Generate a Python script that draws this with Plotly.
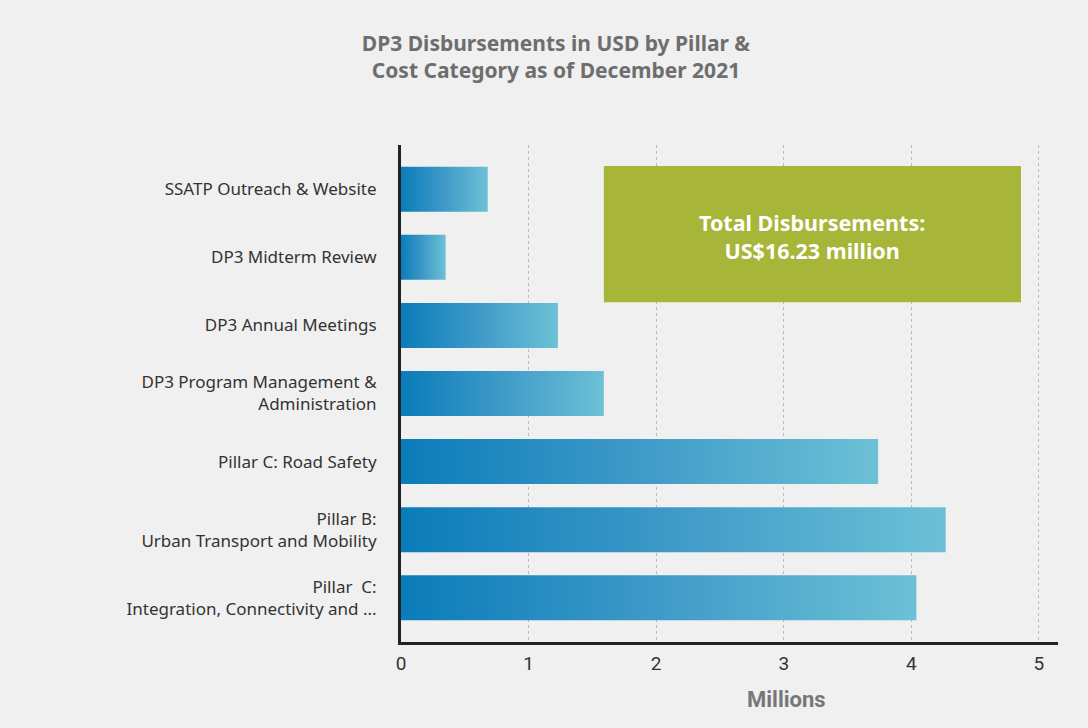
import plotly.graph_objects as go

# Cost categories, listed top to bottom
categories = [
    "SSATP Outreach & Website",
    "DP3 Midterm Review",
    "DP3 Annual Meetings",
    "DP3 Program Management &<br>Administration",
    "Pillar C: Road Safety",
    "Pillar B:<br>Urban Transport and Mobility",
    "Pillar  C:<br>Integration, Connectivity and ...",
]
# Disbursements in millions of USD
disbursed = [0.68, 0.35, 1.23, 1.59, 3.74, 4.27, 4.04]
x_ticks = [0, 1, 2, 3, 4, 5]

total_text = "Total Disbursements:<br>US$16.23 million"

BG = "#f0f0f0"
FONT = "Noto Sans"
HALF = 0.33  # half bar thickness in category units
gradient = [[0, "#0a7cb9"], [0.5, "#3f9ac8"], [1, "#6cc1d6"]]

fig = go.Figure()

# Each bar is a filled rectangle so it can carry a horizontal gradient
for i, v in enumerate(disbursed):
    fig.add_trace(go.Scatter(
        x=[0, v, v, 0, 0],
        y=[i - HALF, i - HALF, i + HALF, i + HALF, i - HALF],
        mode="lines",
        line=dict(width=0),
        fill="toself",
        fillgradient=dict(type="horizontal", colorscale=gradient),
        hoverinfo="skip",
        showlegend=False,
    ))

# Green summary panel
fig.add_shape(
    type="rect", xref="x", yref="y",
    x0=1.59, x1=4.86, y0=-0.34, y1=1.66,
    fillcolor="#a7b538", line=dict(width=0), layer="above",
)
fig.add_annotation(
    x=3.225, y=0.69, xref="x", yref="y",
    text="<b>" + total_text + "</b>",
    showarrow=False,
    font=dict(family=FONT, size=21.5, color="white"),
    align="center",
)

# Axis caption
fig.add_annotation(
    x=0.586, y=-0.115, xref="paper", yref="paper",
    xanchor="center", yanchor="middle",
    text="<b>Millions</b>",
    showarrow=False,
    font=dict(family="Roboto", size=22, color="#777777"),
)

fig.update_layout(
    width=1088, height=728,
    paper_bgcolor=BG, plot_bgcolor=BG,
    margin=dict(l=401, r=30, t=145, b=86),
    title=dict(
        text="<b>DP3 Disbursements in USD by Pillar &<br>Cost Category as of December 2021</b>",
        xref="container", yref="container",
        x=0.511, y=0.93, xanchor="center", yanchor="middle",
        font=dict(family=FONT, size=21, color="#6e6e6e"),
    ),
    xaxis=dict(
        range=[0, 5.15],
        tickvals=x_ticks,
        ticktext=[str(t) for t in x_ticks],
        showgrid=True, gridcolor="#bdbdbd", griddash="dot", gridwidth=1,
        zeroline=False,
        showline=True, linecolor="#222222", linewidth=3,
        ticks="", ticklabelstandoff=2,
        tickfont=dict(family="Roboto", size=19, color="#333333"),
    ),
    yaxis=dict(
        range=[6.65, -0.65],
        tickvals=list(range(len(categories))),
        ticktext=categories,
        showgrid=False, zeroline=False,
        showline=True, linecolor="#222222", linewidth=3,
        ticks="", ticklabelstandoff=18,
        tickfont=dict(family=FONT, size=17, color="#333333"),
    ),
)

fig.write_html("out.html")
